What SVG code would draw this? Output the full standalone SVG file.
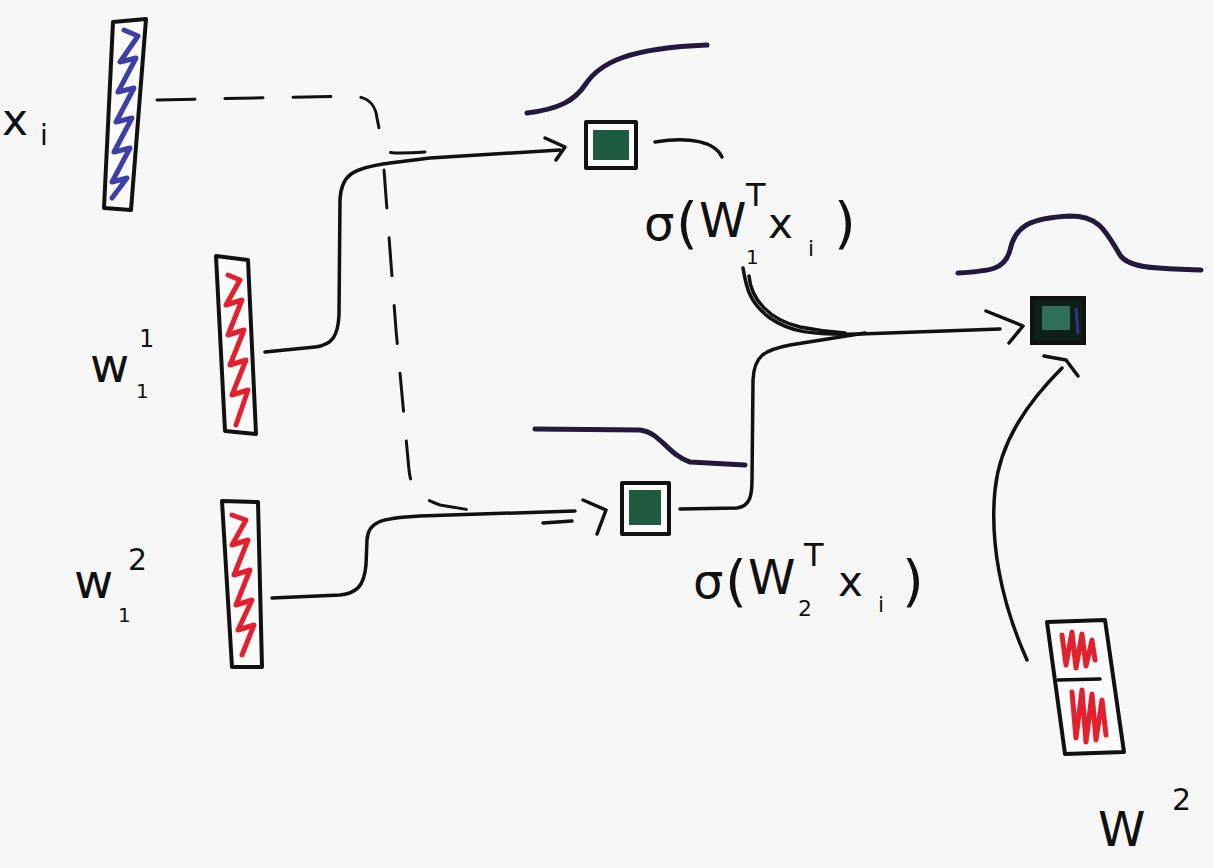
<svg xmlns="http://www.w3.org/2000/svg" width="1214" height="868" viewBox="0 0 1214 868">
<style>
.bg{fill:#f7f7f8}
.ink{fill:none;stroke:#111;stroke-width:3.5;stroke-linecap:round;stroke-linejoin:round}
.box{fill:#fbfbfb;stroke:#111;stroke-width:4;stroke-linejoin:round}
.dash{fill:none;stroke:#111;stroke-width:3;stroke-dasharray:38 30;stroke-linecap:round}
.curve{fill:none;stroke:#24183f;stroke-width:5;stroke-linecap:round;stroke-linejoin:round}
.red{fill:none;stroke:#e3202e;stroke-width:5;stroke-linecap:round;stroke-linejoin:round}
.blue{fill:none;stroke:#3b3fa6;stroke-width:5;stroke-linecap:round;stroke-linejoin:round}
.t{font-family:"DejaVu Sans","Liberation Sans",sans-serif;fill:#111}
</style>
<rect class="bg" x="0" y="0" width="1214" height="868"/>

<g id="connectors">
  <path class="dash" d="M157,100 L352,96 C368,97 375,103 377,118 L383,148 C385,153 392,154 425,152"/>
  <path class="dash" d="M384,170 L396,330 L409,470 C411,490 420,498 440,505 L470,510"/>
  <path class="ink" d="M265,352 L315,347 C333,345 338,335 339,315 L340,200 C341,175 352,168 390,163 L430,158 L560,150"/>
  <path class="ink" d="M545,138 L565,147 L556,160"/>
  <path class="ink" d="M272,598 L340,595 C358,593 364,585 366,565 L367,540 C368,522 380,518 420,516 L575,511"/>
  <path class="ink" d="M543,523 L572,521"/>
  <path class="ink" d="M583,500 L606,510 L597,534"/>
  <path class="ink" d="M655,142 C690,136 715,142 722,157"/>
  <path class="ink" d="M743,268 C746,285 748,302 770,318 C790,332 810,335 860,334 L1000,329"/>
  <path class="ink" stroke-width="2.5" d="M749,276 C751,300 770,320 800,327 C820,331 830,332 845,333"/>
  <path class="ink" d="M680,509 L737,508 C750,506 752,496 752,480 L753,380 C754,355 765,350 790,345 L865,333"/>
  <path class="ink" d="M986,311 L1023,326 L1009,343"/>
  <path class="ink" stroke-width="4.5" d="M1027,660 C1000,600 990,540 995,490 C1000,440 1030,400 1062,368"/>
  <path class="ink" d="M1044,356 L1066,360 L1078,376"/>
</g>

<g id="x_i">
  <polygon class="box" points="113,22 146,19 131,210 104,208"/>
  <path class="blue" d="M124,30 L138,36 L120,62 L136,58 L118,92 L134,88 L116,122 L132,118 L114,152 L130,148 L112,182 L127,178 L112,198"/>
  <text class="t" x="2" y="135" font-size="44">x</text>
  <text class="t" x="40" y="145" font-size="28">i</text>
</g>

<g id="w11">
  <polygon class="box" points="216,256 248,260 256,434 225,431"/>
  <path class="red" d="M228,275 L240,280 L226,305 L242,300 L228,335 L244,330 L230,365 L246,360 L232,395 L248,390 L236,425"/>
  <text class="t" x="90" y="382" font-size="48">w</text>
  <text class="t" x="139" y="347" font-size="24">1</text>
  <text class="t" x="136" y="398" font-size="20">1</text>
</g>

<g id="w12">
  <polygon class="box" points="222,501 258,502 262,667 232,667"/>
  <path class="red" d="M232,515 L246,520 L232,545 L248,540 L234,575 L250,570 L236,605 L252,600 L238,630 L254,625 L242,655"/>
  <text class="t" x="74" y="598" font-size="48">w</text>
  <text class="t" x="128" y="570" font-size="30">2</text>
  <text class="t" x="118" y="622" font-size="20">1</text>
</g>

<g id="h1">
  <path class="curve" d="M527,113 C560,109 575,100 585,85 C600,62 630,48 707,45"/>
  <rect class="box" x="586" y="122" width="50" height="46"/>
  <rect x="593" y="130" width="36" height="30" fill="#1d5a40"/>
  <text class="t" x="644" y="240" font-size="48">σ</text>
  <text class="t" x="676" y="242" font-size="56">(</text>
  <text class="t" x="699" y="237" font-size="48">W</text>
  <text class="t" x="746" y="264" font-size="20">1</text>
  <text class="t" x="746" y="206" font-size="32">T</text>
  <text class="t" x="768" y="238" font-size="42">x</text>
  <text class="t" x="808" y="256" font-size="22">i</text>
  <text class="t" x="834" y="242" font-size="56">)</text>
</g>

<g id="h2">
  <path class="curve" d="M535,429 L640,430 C660,432 668,455 690,462 L745,465"/>
  <rect class="box" x="622" y="483" width="47" height="51"/>
  <rect x="629" y="490" width="32" height="35" fill="#1d5a40"/>
  <text class="t" x="693" y="598" font-size="48">σ</text>
  <text class="t" x="725" y="600" font-size="56">(</text>
  <text class="t" x="748" y="594" font-size="48">W</text>
  <text class="t" x="798" y="616" font-size="22">2</text>
  <text class="t" x="804" y="566" font-size="32">T</text>
  <text class="t" x="838" y="596" font-size="42">x</text>
  <text class="t" x="878" y="612" font-size="22">i</text>
  <text class="t" x="902" y="600" font-size="56">)</text>
</g>

<g id="out">
  <path class="curve" d="M958,273 C990,271 1005,270 1010,250 C1015,226 1030,218 1070,216 C1100,216 1106,232 1120,255 C1131,271 1170,268 1201,270"/>
  <rect x="1032" y="298" width="52" height="45" fill="#0e1f1a" stroke="#111" stroke-width="4"/>
  <rect x="1042" y="306" width="28" height="24" fill="#2f6e58"/>
  <line x1="1076" y1="308" x2="1078" y2="334" stroke="#2a3a8a" stroke-width="3"/>
</g>

<g id="W2">
  <polygon class="box" points="1047,622 1105,620 1124,752 1065,754"/>
  <line class="ink" x1="1058" y1="680" x2="1100" y2="679"/>
  <path class="red" d="M1062,635 L1066,665 L1072,632 L1076,668 L1082,634 L1086,666 L1092,640 L1095,660"/>
  <path class="red" d="M1072,692 L1076,738 L1082,690 L1086,742 L1092,694 L1096,740 L1102,700 L1106,735"/>
  <text class="t" x="1098" y="846" font-size="48">W</text>
  <text class="t" x="1172" y="810" font-size="30">2</text>
</g>
</svg>
